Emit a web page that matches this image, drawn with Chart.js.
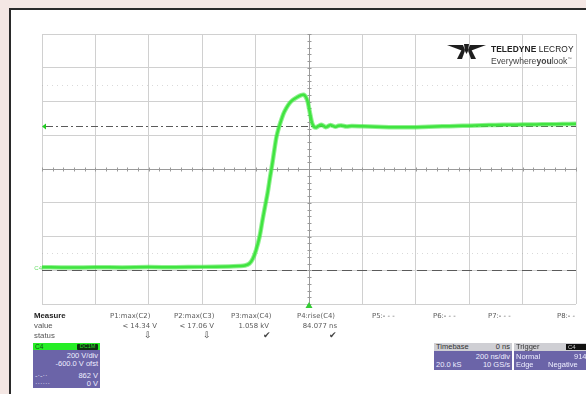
<!DOCTYPE html>
<html><head><meta charset="utf-8">
<script src="https://cdn.jsdelivr.net/npm/chart.js@4.4.1/dist/chart.umd.min.js"></script>
<style>
html,body{margin:0;padding:0;}
body{width:586px;height:394px;overflow:hidden;background:#f4e7e4;position:relative;font-family:"Liberation Sans",Arial,sans-serif;}
#frame{position:absolute;left:9px;top:8px;width:620px;height:420px;border:2px solid #2a2a2a;background:#fff;}
#c{position:absolute;left:0;top:0;}
.t{position:absolute;font-size:7.5px;color:#555;white-space:nowrap;line-height:8px;}
.m{font-family:"DejaVu Sans",sans-serif;font-size:6.9px;color:#5a5a5a;}
.r{text-align:right;}
.box{position:absolute;background:#6b64a8;overflow:hidden;}
.hd{position:absolute;left:0;right:0;top:0;height:8px;}
</style></head><body>
<div id="frame"></div>
<canvas id="c" width="586" height="394"></canvas>
<div id="ov"></div>
<script>
// ---- data ----
const timeNs = [-1000,-900,-800,-700,-600,-500,-400,-300,-260,-240,-223,-210,-198,-185,-174,-165,-155,-146,-137,-130,-122,-113,-104,-95,-85,-74,-62,-45,-29,-20,-13,-6,-1,5,12,20,27,36,46,54,62,70,79,90,99,110,121,140,160,200,250,300,350,400,450,500,550,600,650,700,750,800,850,900,950,1000];
const voltsC4 = [18,16,18,17,19,18,20,22,25,28,40,70,121,200,298,375,458,550,636,710,789,845,890,930,961,988,1008,1025,1038,1040,1030,1005,969,920,870,848,846,855,862,856,848,852,860,855,850,856,858,852,855,853,850,848,847,848,850,853,855,857,859,861,862,863,864,865,866,868];
const xTicks = [-1000,-800,-600,-400,-200,0,200,400,600,800,1000];
const yTicks = [-200,0,200,400,600,800,1000,1200,1400];
const refLevels = {dashDot: 852, dashed: 0};
const faintLevels = [1100, 100];
const measureNames = ["P1:max(C2)","P2:max(C3)","P3:max(C4)","P4:rise(C4)","P5:- - -","P6:- - -","P7:- - -","P8:- -"];
const measureValues = ["< 14.34 V","< 17.06 V","1.058 kV","84.077 ns","","","",""];
const measureStatus = ["⇩","⇩","✔","✔","","","",""];

const pts = timeNs.map((t,i)=>({x:t,y:voltsC4[i]}));

const scopePlugin = {
  id:'scope',
  beforeDatasetsDraw(ch){
    const {ctx,chartArea:a,scales:{x,y}} = ch;
    ctx.save();
    ctx.strokeStyle='rgba(170,170,170,0.45)';ctx.lineWidth=1;ctx.setLineDash([1,4]);
    faintLevels.forEach(v=>{const py=Math.round(y.getPixelForValue(v))+0.5;ctx.beginPath();ctx.moveTo(a.left,py);ctx.lineTo(a.right,py);ctx.stroke();});
    ctx.setLineDash([]);
    const cx=Math.round(x.getPixelForValue(0))+0.5, cy=Math.round(y.getPixelForValue(600))+0.5;
    ctx.strokeStyle='#9a9a9a';
    ctx.beginPath();ctx.moveTo(a.left,cy);ctx.lineTo(a.right,cy);ctx.moveTo(cx,a.top);ctx.lineTo(cx,a.bottom);ctx.stroke();
    ctx.beginPath();
    for(let t=-1000;t<=1000;t+=40){const px=Math.round(x.getPixelForValue(t))+0.5;ctx.moveTo(px,cy-2);ctx.lineTo(px,cy+2);}
    for(let v=-200;v<=1400;v+=40){const py=Math.round(y.getPixelForValue(v))+0.5;ctx.moveTo(cx-2,py);ctx.lineTo(cx+2,py);}
    ctx.stroke();
    ctx.strokeStyle='#5a5a5a';ctx.lineWidth=1;
    let py=Math.round(y.getPixelForValue(refLevels.dashDot))+0.5;
    ctx.setLineDash([7,3,2,3]);ctx.beginPath();ctx.moveTo(a.left+4,py);ctx.lineTo(a.right,py);ctx.stroke();
    py=Math.round(y.getPixelForValue(refLevels.dashed))+0.5;
    ctx.setLineDash([10,5]);ctx.beginPath();ctx.moveTo(a.left,py);ctx.lineTo(a.right,py);ctx.stroke();
    ctx.setLineDash([]);
    py=y.getPixelForValue(refLevels.dashDot);
    ctx.fillStyle='#22cc22';ctx.beginPath();ctx.moveTo(a.left,py);ctx.lineTo(a.left+4,py-3);ctx.lineTo(a.left+4,py+3);ctx.closePath();ctx.fill();
    ctx.restore();
  },
  afterDatasetsDraw(ch){
    const {ctx,chartArea:a,scales:{x,y}} = ch;
    ctx.save();
    const cx=x.getPixelForValue(0);
    ctx.fillStyle='#33cc33';ctx.beginPath();ctx.moveTo(cx,a.bottom-2);ctx.lineTo(cx-3.5,a.bottom+4);ctx.lineTo(cx+3.5,a.bottom+4);ctx.closePath();ctx.fill();
    ctx.fillStyle='#66dd66';ctx.font='6px "Liberation Sans",Arial';ctx.textAlign='right';ctx.textBaseline='middle';
    ctx.fillText('C4',a.left,y.getPixelForValue(voltsC4[0])+1);
    ctx.restore();
  }
};

new Chart(document.getElementById('c'),{
  type:'line',
  data:{datasets:[
    {data:pts,borderColor:'rgba(70,230,70,0.6)',borderWidth:4.5,pointRadius:0,tension:0.3},
    {data:pts,borderColor:'#38e038',borderWidth:2.5,pointRadius:0,tension:0.3}
  ]},
  options:{
    responsive:false,animation:false,devicePixelRatio:1,
    layout:{padding:{left:42,top:34,right:10,bottom:90}},
    plugins:{legend:{display:false},tooltip:{enabled:false}},
    scales:{
      x:{type:'linear',min:-1000,max:1000,
        afterBuildTicks:s=>{s.ticks=xTicks.map(v=>({value:v}));},
        ticks:{display:false},grid:{color:'#d0d0d0',drawTicks:false},border:{display:false},
        afterFit:s=>{s.height=0;}},
      y:{type:'linear',min:-200,max:1400,
        afterBuildTicks:s=>{s.ticks=yTicks.map(v=>({value:v}));},
        ticks:{display:false},grid:{color:'#d0d0d0',drawTicks:false},border:{display:false},
        afterFit:s=>{s.width=0;}}
    }
  },
  plugins:[scopePlugin]
});

// ---- overlay panel ----
const ov=document.getElementById('ov');
function T(txt,left,top,extra,cls){const d=document.createElement('div');d.className='t '+(cls||'');d.textContent=txt;d.style.left=left+'px';d.style.top=top+'px';if(extra)Object.assign(d.style,extra);ov.appendChild(d);return d;}
T('Measure',34,312,{fontWeight:'bold',color:'#222',fontSize:'7.8px'});
T('value',34,322,{fontSize:'7.8px'},'');
T('status',34,332,{fontSize:'7.8px'},'');
const nameLeft=[110,174,231,297,372,433,488,557];
const rightEdge=[157,214,269,337];
const statusRight=[152,211,271,337];
measureNames.forEach((n,i)=>T(n,nameLeft[i],312,null,'m'));
measureValues.forEach((v,i)=>{if(v){T(v,rightEdge[i]-60,322,{width:'60px'},'m r');}});
measureStatus.forEach((s,i)=>{if(s){T(s,statusRight[i]-60,331,{width:'60px',color:'#444',fontSize:'8.5px',lineHeight:'9px'},'r');}});

function box(left,top,w,h){const b=document.createElement('div');b.className='box';Object.assign(b.style,{left:left+'px',top:top+'px',width:w+'px',height:h+'px'});ov.appendChild(b);return b;}
function bt(b,txt,left,top,style,cls){const d=document.createElement('div');d.className='t '+(cls||'');d.textContent=txt;d.style.left=left+'px';d.style.top=top+'px';if(style)Object.assign(d.style,style);b.appendChild(d);return d;}
let b=box(33,343,67,45);
let h=document.createElement('div');h.className='hd';h.style.background='#27ee27';h.style.height='7px';b.appendChild(h);
bt(b,'C4',2,0,{color:'#115511',fontSize:'6.5px',lineHeight:'7px'});
let pill=document.createElement('div');Object.assign(pill.style,{position:'absolute',left:'44px',top:'1px',width:'21px',height:'6px',background:'#113311',borderRadius:'1px'});b.appendChild(pill);
bt(b,'DC1M',45,0,{color:'#33dd33',fontSize:'5.5px',lineHeight:'7px',width:'19px',textAlign:'center'});
bt(b,'200 V/div',0,9,{width:'65px',color:'#eef'},'r');
bt(b,'-600.0 V ofst',0,17,{width:'65px',color:'#eef'},'r');
bt(b,'-·-··',2,29,{color:'#dde'});
bt(b,'862 V',0,29,{width:'65px',color:'#eef'},'r');
bt(b,'······',2,37,{color:'#dde'});
bt(b,'0 V',0,37,{width:'65px',color:'#eef'},'r');
b=box(434,343,78,27);
h=document.createElement('div');h.className='hd';h.style.background='#cfcfd4';b.appendChild(h);
bt(b,'Timebase',2,0,{color:'#333'});
bt(b,'0 ns',0,0,{width:'76px',color:'#333'},'r');
bt(b,'200 ns/div',0,10,{width:'76px',color:'#eef'},'r');
bt(b,'20.0 kS',2,18,{color:'#eef'});
bt(b,'10 GS/s',0,18,{width:'76px',color:'#eef'},'r');
b=box(514,343,90,27);
h=document.createElement('div');h.className='hd';h.style.background='#cfcfd4';b.appendChild(h);
bt(b,'Trigger',2,0,{color:'#333'});
pill=document.createElement('div');Object.assign(pill.style,{position:'absolute',left:'52px',top:'1px',width:'22px',height:'6px',background:'#111'});b.appendChild(pill);
bt(b,'C4',54,0,{color:'#ccc',fontSize:'6px'});
bt(b,'Normal',2,10,{color:'#eef'});
bt(b,'914 V',60,10,{color:'#eef'});
bt(b,'Edge',2,18,{color:'#eef'});
bt(b,'Negative',34,18,{color:'#eef'});
</script>
<svg style="position:absolute;left:446px;top:42px" width="42" height="18" viewBox="0 0 42 18">
<polygon fill="#1e1e1e" points="1,3 17,3 19,8 17,9"/>
<polygon fill="#1e1e1e" points="40,3 24,3 22,8 24,9"/>
<polygon fill="#1e1e1e" points="16,7 19,8.5 16,17 11,17"/>
<polygon fill="#1e1e1e" points="25,7 22,8.5 25,17 30,17"/>
<polygon fill="#1e1e1e" points="18,2 23,2 22,9 20.5,12 19,9"/>
</svg>
<div class="t" style="left:491px;top:44px;font-size:9.5px;line-height:10px;color:#222;transform:scaleX(0.88);transform-origin:left top;letter-spacing:0.1px"><b>TELEDYNE</b> LECROY</div>
<div class="t" style="left:491px;top:54px;font-size:8.6px;line-height:9px;color:#444;">Everywhere<b>you</b>look<sup style="font-size:4px">™</sup></div>
</body></html>
